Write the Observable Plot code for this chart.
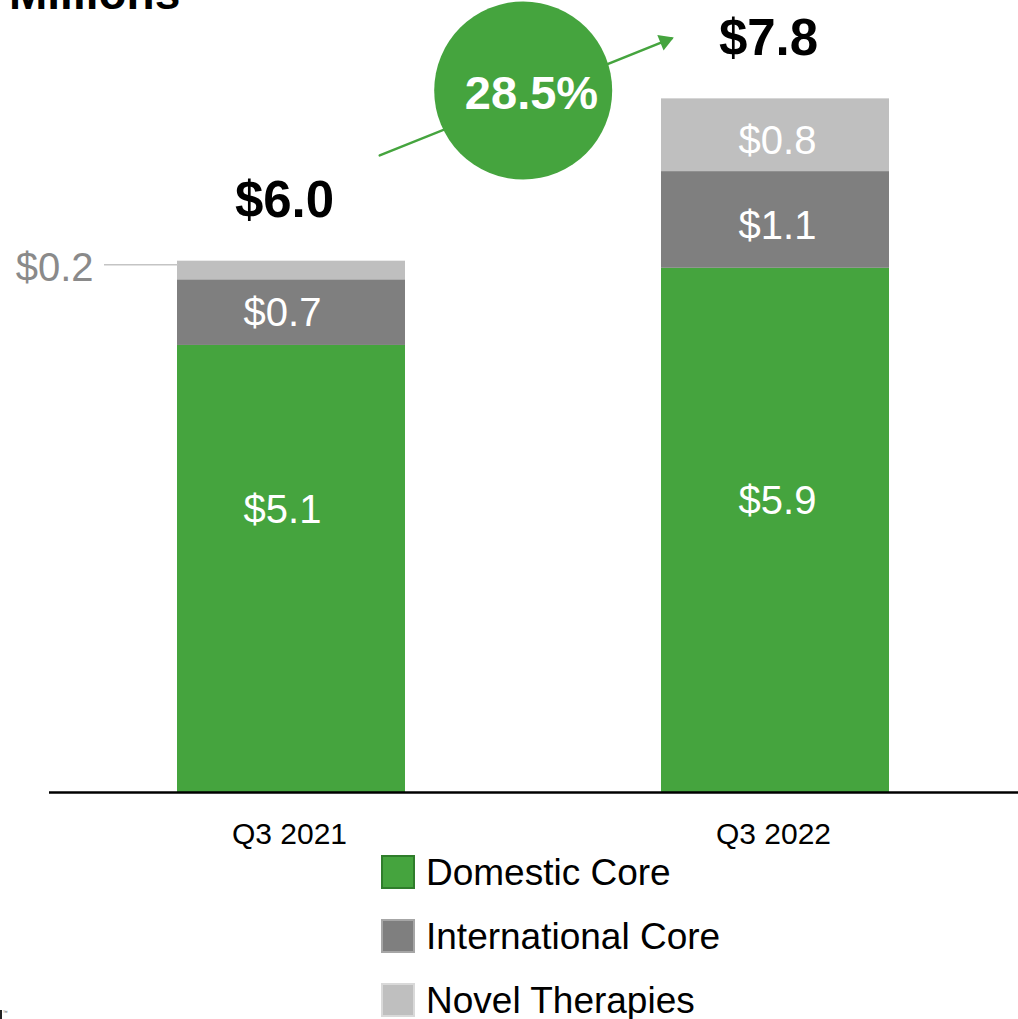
<!DOCTYPE html>
<html>
<head>
<meta charset="utf-8">
<script src="https://cdn.jsdelivr.net/npm/d3@7"></script>
<script src="https://cdn.jsdelivr.net/npm/@observablehq/plot@0.6"></script>
<style>
  html, body { margin: 0; padding: 0; background: #fff; }
  #wrap { position: relative; width: 1018px; height: 1019px; overflow: hidden; font-family: "Liberation Sans", Arial, sans-serif; }
  #title { position: absolute; left: 9px; top: -30px; font-size: 46px; line-height: 46px; font-weight: bold; color: #000; }
  #chart { position: absolute; left: 0; top: 0; }
  #legend { position: absolute; left: 381px; top: 855px; }
  .item { position: relative; height: 64px; }
  .sw { position: absolute; left: 0; top: 0; width: 34px; height: 34px; box-sizing: border-box; }
  .lab { position: absolute; left: 45px; top: -1px; font-size: 37px; line-height: 37px; color: #000; white-space: nowrap; }
  #tm { position: absolute; left: 0; top: 1009px; font-size: 5px; color: #555; }
  #tmbar { position: absolute; left: 0; top: 1010px; width: 2px; height: 9px; background: #222; }
</style>
</head>
<body>
<div id="wrap">
  <div id="chart"></div>
  <div id="title">Millions</div>
  <div id="legend"></div>
  <div id="tmbar"></div><div id="tm">&nbsp;&nbsp;™</div>
</div>
<script>
// ---- data ----
const categories = ["Q3 2021", "Q3 2022"];
const segments = ["Domestic Core", "International Core", "Novel Therapies"];
const domestic = [5.04, 5.91];
const international = [0.74, 1.09];
const novel = [0.21, 0.82];
const domesticLabels = ["$5.1", "$5.9"];
const internationalLabels = ["$0.7", "$1.1"];
const novelLabels = ["$0.2", "$0.8"];
const totalLabels = ["$6.0", "$7.8"];
const growthLabel = "28.5%";
const colors = ["#45a43e", "#7f7f7f", "#bfbfbf"];
const legendBorders = ["#2f7d2b", "#a6a6a6", "#d9d9d9"];

// ---- table ----
const series = [domestic, international, novel];
const seriesLabels = [domesticLabels, internationalLabels, novelLabels];
const rows = [];
categories.forEach((q, i) => {
  let base = 0;
  segments.forEach((s, j) => {
    const v = series[j][i];
    rows.push({quarter: q, segment: s, value: v, label: seriesLabels[j][i], y1: base, y2: base + v, mid: base + v / 2});
    base += v;
  });
});
const totals = categories.map((q, i) => ({quarter: q, total: domestic[i] + international[i] + novel[i], label: totalLabels[i]}));
const isOutside = d => d.quarter === categories[0] && d.segment === segments[2];
const inBar = (q, dom) => rows.filter(d => d.quarter === q && (d.segment === segments[0]) === dom && !isOutside(d));
const outsideRows = rows.filter(isOutside);
const growth = [{from: categories[0], to: categories[1], label: growthLabel}];

const green = colors[0];
const yPerUnit = 88.7;
const baseY = 792;
const labelStyle = {x: "quarter", text: "label", fill: "#fff", fontSize: 40};

const plot = Plot.plot({
  width: 1018,
  height: 850,
  marginLeft: 49,
  marginRight: 0,
  marginTop: 0,
  marginBottom: 58,
  style: {fontFamily: "'Liberation Sans', Arial, sans-serif", fontSize: "30px", color: "#000", background: "transparent", overflow: "visible"},
  x: {domain: categories, paddingInner: 0.529, paddingOuter: 0.265},
  y: {domain: [0, 9], range: [baseY, baseY - 9 * yPerUnit], axis: null},
  color: {domain: segments, range: colors},
  marks: [
    Plot.barY(rows, {x: "quarter", y1: "y1", y2: "y2", fill: "segment", dx: -1}),
    Plot.ruleY([0], {stroke: "#000", strokeWidth: 2.6}),
    Plot.axisX({tickSize: 0, tickPadding: 30, fontSize: 30, label: null, fill: "#000", dx: -3}),
    // labels inside bars
    Plot.text(inBar(categories[0], true), {...labelStyle, y: () => 3.18, dx: -10}),
    Plot.text(inBar(categories[1], true), {...labelStyle, y: () => 3.28, dx: 1}),
    Plot.text(inBar(categories[0], false), {...labelStyle, y: "mid", dx: -10, dy: 1}),
    Plot.text(inBar(categories[1], false), {...labelStyle, y: "mid", dx: 1, dy: 6}),
    // outside label with leader
    Plot.tickY(outsideRows, {x: "quarter", y: d => d.y2 - 0.04, dx: -228, insetLeft: 154, stroke: "#c4c4c4", strokeWidth: 1.5}),
    Plot.text(outsideRows, {x: "quarter", y: "mid", text: "label", fill: "#8a8a8a", fontSize: 40, textAnchor: "end", dx: -199, dy: -2}),
    // totals
    Plot.text(totals, {x: "quarter", y: "total", text: "label", fontSize: 51, fontWeight: "bold", fill: "#000", lineAnchor: "bottom", dy: -44, dx: -8}),
    // growth arrow
    Plot.arrow(growth, {x1: "from", x2: "to", y1: () => 6.788, y2: () => 8.975, stroke: green, strokeWidth: 2.5, headLength: 0, insetStart: 94, insetEnd: 113}),
    Plot.dot(growth, {x: "to", y: () => 8.472, dx: -111.6, symbol: "triangle", r: 6.2, rotate: 68, fill: green, stroke: "none"}),
    Plot.dot(growth, {x: "to", y: () => 7.914, dx: -253.3, r: 89, fill: green, stroke: "none"}),
    Plot.text(growth, {x: "to", y: () => 7.914, dx: -245, dy: 3, text: "label", fill: "#fff", fontSize: 47, fontWeight: "bold"})
  ]
});
document.getElementById("chart").appendChild(plot);

// ---- legend ----
const legend = document.getElementById("legend");
segments.forEach((s, i) => {
  const item = document.createElement("div");
  item.className = "item";
  const sw = document.createElement("div");
  sw.className = "sw";
  sw.style.background = colors[i];
  sw.style.border = "2px solid " + legendBorders[i];
  const lab = document.createElement("div");
  lab.className = "lab";
  lab.textContent = s;
  item.appendChild(sw);
  item.appendChild(lab);
  legend.appendChild(item);
});
</script>
</body>
</html>
